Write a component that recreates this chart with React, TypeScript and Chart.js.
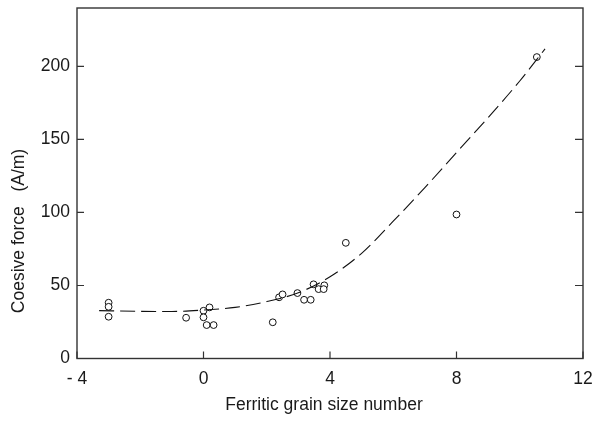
import React, { useEffect, useRef } from "react";
import { Chart, registerables } from "chart.js";

Chart.register(...registerables);

// Measured data (Ferritic grain size number vs coercive force A/m)
const grainSize = [-3.0, -3.0, -3.0, -0.55, 0.0, 0.19, 0.0, 0.1, 0.32, 2.19, 2.39, 2.5, 2.97, 3.18, 3.39, 3.48, 3.64, 3.82, 3.8, 4.5, 8.0, 10.54];
const coerciveForce = [38.2, 35.4, 28.6, 27.9, 32.7, 35.0, 28.2, 22.9, 22.9, 24.8, 41.9, 43.9, 44.8, 40.2, 40.2, 50.8, 47.5, 50.1, 47.5, 79.2, 98.6, 206.4];

// Fitted trend (dashed)
const fitX = [-3.3, -2, -1, 0, 1, 2, 3, 4, 5, 6, 7, 8, 9, 10, 10.8];
const fitY = [32.8, 32.3, 32.2, 33.2, 35, 39, 45, 56, 72, 94, 117, 141, 165, 190, 212];

const xTicks = [-4, 0, 4, 8, 12];
const xTickLabels = ["- 4", "0", "4", "8", "12"];
const yTicks = [0, 50, 100, 150, 200];

const xTitle = "Ferritic grain size number";
const yTitle = "Coesive force   (A/m)";

const FONT = "'Liberation Sans', Arial, sans-serif";
const FS = 17.5;

const framePlugin = {
  id: "frame",
  afterDraw(chart: any) {
    const { ctx, chartArea } = chart;
    const { left, right, top, bottom } = chartArea;
    const xs = chart.scales.x;
    const ys = chart.scales.y;
    ctx.save();
    ctx.strokeStyle = "#333";
    ctx.lineWidth = 1.4;
    ctx.strokeRect(left, top, right - left, bottom - top);
    ctx.lineWidth = 1.2;
    ctx.beginPath();
    xTicks.forEach((v) => {
      const px = xs.getPixelForValue(v);
      ctx.moveTo(px, bottom);
      ctx.lineTo(px, bottom - 7);
    });
    yTicks.forEach((v) => {
      const py = ys.getPixelForValue(v);
      ctx.moveTo(left, py);
      ctx.lineTo(left + 7, py);
      ctx.moveTo(right, py);
      ctx.lineTo(right - 8, py);
    });
    ctx.stroke();
    // titles
    ctx.fillStyle = "#1a1a1a";
    ctx.font = `${FS}px ${FONT}`;
    ctx.textAlign = "center";
    ctx.textBaseline = "middle";
    ctx.fillText(xTitle, 324, 405);
    ctx.translate(19, 231);
    ctx.rotate(-Math.PI / 2);
    ctx.fillText(yTitle, 0, 0);
    ctx.restore();
  },
};

export default function App() {
  const ref = useRef<HTMLCanvasElement | null>(null);
  useEffect(() => {
    if (!ref.current) return;
    const chart = new Chart(ref.current, {
      type: "scatter",
      data: {
        datasets: [
          {
            label: "fit",
            data: fitX.map((x, i) => ({ x, y: fitY[i] })),
            showLine: true,
            borderColor: "#111",
            borderWidth: 1.1,
            borderDash: [15, 6],
            pointRadius: 0,
            cubicInterpolationMode: "monotone",
            fill: false,
          },
          {
            label: "data",
            data: grainSize.map((x, i) => ({ x, y: coerciveForce[i] })),
            showLine: false,
            pointRadius: 3.4,
            pointBorderWidth: 1,
            pointBorderColor: "#111",
            pointBackgroundColor: "#fff",
          },
        ],
      },
      options: {
        animation: false,
        responsive: false,
        maintainAspectRatio: false,
        layout: { padding: { left: 0, right: 14, top: 8, bottom: 0 } },
        plugins: { legend: { display: false }, tooltip: { enabled: false } },
        scales: {
          x: {
            type: "linear",
            min: -4,
            max: 12,
            grid: { display: false, drawTicks: false },
            border: { display: false },
            afterBuildTicks: (s: any) => {
              s.ticks = xTicks.map((v) => ({ value: v }));
            },
            afterFit: (s: any) => {
              s.height = 64.5;
              s.paddingLeft = 0;
              s.paddingRight = 0;
            },
            ticks: {
              padding: 10,
              color: "#1a1a1a",
              font: { family: FONT, size: FS },
              maxRotation: 0,
              callback: (v: any) => {
                const i = xTicks.indexOf(Number(v));
                return i >= 0 ? xTickLabels[i] : "";
              },
            },
          },
          y: {
            type: "linear",
            min: 0,
            max: 240,
            grid: { display: false, drawTicks: false },
            border: { display: false },
            afterBuildTicks: (s: any) => {
              s.ticks = yTicks.map((v) => ({ value: v }));
            },
            afterFit: (s: any) => {
              s.width = 77;
              s.paddingTop = 0;
              s.paddingBottom = 0;
            },
            ticks: {
              padding: 7,
              color: "#1a1a1a",
              font: { family: FONT, size: FS },
            },
          },
        },
      },
      plugins: [framePlugin],
    });
    return () => chart.destroy();
  }, []);
  return (
    <div style={{ position: "fixed", left: 0, top: 0, width: 597, height: 423, background: "#fff" }}>
      <canvas ref={ref} width={597} height={423} style={{ display: "block" }} />
    </div>
  );
}
